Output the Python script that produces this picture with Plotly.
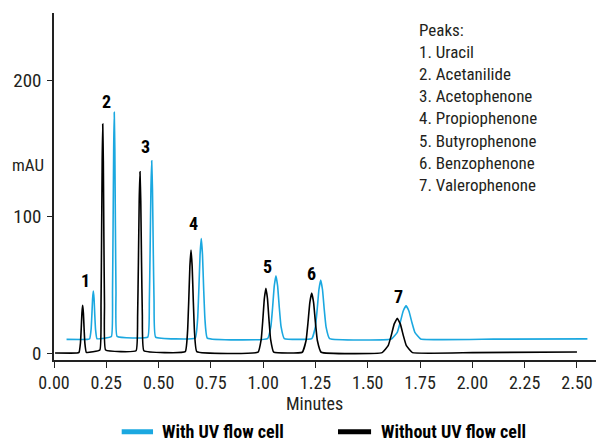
import plotly.graph_objects as go

FONT = "Roboto Condensed, Liberation Sans Narrow, sans-serif"
TXT = "#231f20"
BLUE = "#1ba8e0"

# Trace "Without UV flow cell" (black)
black_x = [0.005, 0.110,
           0.1195, 0.1265, 0.130, 0.1335, 0.137, 0.1405, 0.144, 0.1475, 0.1545,
           0.2193, 0.2248, 0.2275, 0.2303, 0.233, 0.2358, 0.2385, 0.2413, 0.2468,
           0.3923, 0.3998, 0.4035, 0.4073, 0.411, 0.4148, 0.4185, 0.4223, 0.4298,
           0.6275, 0.6385, 0.644, 0.6495, 0.655, 0.6605, 0.666, 0.6715, 0.6825,
           0.9755, 0.9905, 0.998, 1.0055, 1.013, 1.0205, 1.028, 1.0355, 1.0505,
           1.187, 1.205, 1.214, 1.223, 1.232, 1.241, 1.250, 1.259, 1.277,
           1.5685, 1.5975, 1.612, 1.6265, 1.641, 1.6555, 1.670, 1.6845, 1.7135,
           2.000, 2.500]
black_y = [0.0, 0.0,
           0.5, 7.4, 17.5, 29.4, 35.0, 29.4, 17.5, 7.4, 0.5,
           2.2, 35.3, 84.0, 141.1, 168.0, 141.1, 84.0, 35.3, 2.2,
           1.7, 27.9, 66.5, 111.7, 133.0, 111.7, 66.5, 27.9, 1.7,
           1.0, 15.9, 37.8, 63.4, 75.5, 63.4, 37.8, 15.9, 1.0,
           0.6, 10.0, 23.8, 39.9, 47.5, 39.9, 23.8, 10.0, 0.6,
           0.6, 9.2, 22.0, 37.0, 44.0, 37.0, 22.0, 9.2, 0.6,
           0.3, 5.4, 12.8, 21.4, 25.5, 21.4, 12.8, 5.4, 0.3,
           0.3, 0.8]

# Trace "With UV flow cell" (blue)
blue_x = [0.060, 0.160,
          0.1705, 0.1775, 0.181, 0.1845, 0.188, 0.1915, 0.195, 0.1985, 0.2055,
          0.2743, 0.2798, 0.2825, 0.2853, 0.288, 0.2908, 0.2935, 0.2963, 0.3018,
          0.4483, 0.4558, 0.4595, 0.4633, 0.467, 0.4708, 0.4745, 0.4783, 0.4858,
          0.6753, 0.6868, 0.6925, 0.6983, 0.704, 0.7098, 0.7155, 0.7213, 0.7328,
          1.021, 1.037, 1.045, 1.053, 1.061, 1.069, 1.077, 1.085, 1.101,
          1.2325, 1.2495, 1.258, 1.2665, 1.275, 1.2835, 1.292, 1.3005, 1.3175,
          1.613, 1.641, 1.655, 1.669, 1.683, 1.697, 1.711, 1.725, 1.753,
          2.100, 2.550]
blue_y = [10.0, 10.0,
          10.5, 17.5, 27.8, 39.8, 45.5, 39.8, 27.8, 17.5, 10.5,
          12.2, 45.0, 93.3, 149.9, 176.6, 149.9, 93.3, 45.0, 12.2,
          11.7, 37.5, 75.5, 120.0, 141.0, 120.0, 75.5, 37.5, 11.7,
          11.0, 25.5, 47.0, 72.2, 84.0, 72.2, 47.0, 25.5, 11.0,
          10.6, 19.8, 33.4, 49.2, 56.7, 49.2, 33.4, 19.8, 10.6,
          10.6, 19.2, 31.8, 46.6, 53.6, 46.6, 31.8, 19.2, 10.6,
          10.3, 15.2, 22.4, 30.7, 34.7, 30.7, 22.4, 15.2, 10.3,
          10.2, 10.4]

peak_labels = ["1", "2", "3", "4", "5", "6", "7"]
peak_label_x = [0.151, 0.249, 0.438, 0.669, 1.021, 1.232, 1.646]
peak_label_y = [53.5, 184.4, 151.3, 95.3, 63.3, 58.5, 41.3]

peak_names = ["Uracil", "Acetanilide", "Acetophenone", "Propiophenone",
              "Butyrophenone", "Benzophenone", "Valerophenone"]

x_ticks = [0.0, 0.25, 0.5, 0.75, 1.0, 1.25, 1.5, 1.75, 2.0, 2.25, 2.5]
y_ticks = [0, 100, 200]

fig = go.Figure()
fig.add_trace(go.Scatter(x=blue_x, y=blue_y, mode="lines",
                         line=dict(color=BLUE, width=1.6, shape="spline", smoothing=0.3),
                         name="With UV flow cell", showlegend=False, hoverinfo="skip"))
fig.add_trace(go.Scatter(x=black_x, y=black_y, mode="lines",
                         line=dict(color="#000000", width=1.6, shape="spline", smoothing=0.3),
                         name="Without UV flow cell", showlegend=False, hoverinfo="skip"))

for t, x, y in zip(peak_labels, peak_label_x, peak_label_y):
    fig.add_annotation(x=x, y=y, text="<b>%s</b>" % t, showarrow=False,
                       xanchor="center", yanchor="middle",
                       font=dict(family=FONT, size=18, color="#000"))

peaks_text = "Peaks:<br>" + "<br>".join("%d. %s" % (i + 1, n) for i, n in enumerate(peak_names))
fig.add_annotation(xref="paper", yref="paper", x=0.670, y=0.985, xanchor="left", yanchor="top",
                   text=peaks_text, showarrow=False, align="left",
                   font=dict(family=FONT, size=17, color=TXT))

fig.add_annotation(xref="paper", yref="paper", x=0.4815, y=-0.124, text="Minutes",
                   xanchor="center", yanchor="middle",
                   showarrow=False, font=dict(family=FONT, size=18, color=TXT))
fig.add_annotation(xref="paper", yref="paper", x=-0.048, y=0.562, text="mAU",
                   xanchor="center", yanchor="middle",
                   showarrow=False, font=dict(family=FONT, size=17, color=TXT))

# legend drawn manually
LEG_Y = -0.2066
fig.add_shape(type="line", xref="paper", yref="paper", x0=0.1249, x1=0.1827, y0=LEG_Y, y1=LEG_Y,
              line=dict(color=BLUE, width=5))
fig.add_annotation(xref="paper", yref="paper", x=0.1956, y=LEG_Y, xanchor="left", yanchor="middle",
                   text="<b>With UV flow cell</b>", showarrow=False,
                   font=dict(family=FONT, size=18, color="#000"))
fig.add_shape(type="line", xref="paper", yref="paper", x0=0.524, x1=0.585, y0=LEG_Y, y1=LEG_Y,
              line=dict(color="#000", width=5))
fig.add_annotation(xref="paper", yref="paper", x=0.5996, y=LEG_Y, xanchor="left", yanchor="middle",
                   text="<b>Without UV flow cell</b>", showarrow=False,
                   font=dict(family=FONT, size=18, color="#000"))

fig.update_layout(
    width=596, height=438,
    margin=dict(l=54, r=0, t=13, b=78),
    paper_bgcolor="white", plot_bgcolor="white",
    font=dict(family=FONT, size=18, color=TXT),
    hovermode=False,
    xaxis=dict(range=[0, 2.591], tickvals=x_ticks, tickformat=".2f",
               showgrid=False, zeroline=False, showline=True, linecolor="#222", linewidth=1.5,
               ticks="outside", ticklen=6, tickwidth=1.3, tickcolor="#222",
               tickfont=dict(family=FONT, size=18, color=TXT)),
    yaxis=dict(range=[-5.1, 249.4], tickvals=y_ticks,
               showgrid=False, zeroline=False, showline=True, linecolor="#222", linewidth=1.5,
               ticks="outside", ticklen=5, tickwidth=1.3, tickcolor="#222",
               ticklabelstandoff=2,
               tickfont=dict(family=FONT, size=19, color=TXT)),
)

fig.write_html("out.html", config={"displayModeBar": False},
               post_script="document.body.style.margin='0';")
